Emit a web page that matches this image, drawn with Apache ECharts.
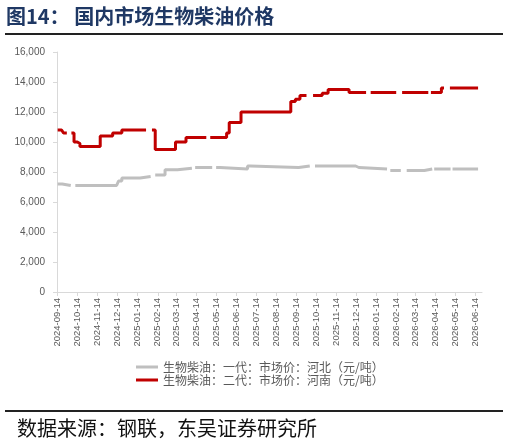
<!DOCTYPE html>
<html>
<head>
<meta charset="utf-8">
<script src="https://cdn.jsdelivr.net/npm/echarts@6/dist/echarts.min.js"></script>
<style>
    html, body { margin: 0; padding: 0; background: #fff; }
    #chart { width: 509px; height: 444px; }
</style>
</head>
<body>
<div id="chart"></div>
<script>
// 数据：二代 河南（红线），变化点 + null 断点
var redDates = ['2024-09-14','2024-09-20','2024-09-23','2024-09-28','2024-09-29','2024-10-05','2024-10-09','2024-10-14','2024-10-18',
    '2024-11-18','2024-12-07','2024-12-21','2025-01-27','2025-01-28','2025-02-05','2025-02-10','2025-03-13','2025-03-29',
    '2025-04-29','2025-04-30','2025-05-05','2025-05-30','2025-06-03','2025-06-21','2025-09-05','2025-09-12','2025-09-19',
    '2025-09-29','2025-09-30','2025-10-09','2025-10-23','2025-11-01','2025-12-03','2025-12-29','2025-12-30','2026-01-05',
    '2026-02-13','2026-02-14','2026-02-22','2026-04-03','2026-04-04','2026-04-07','2026-04-23','2026-04-27','2026-04-28',
    '2026-05-06','2026-06-18'];
var redValues = [10800,10700,10600,10600,null,10600,10000,9900,9700,
    10400,10600,10800,10800,null,10800,9500,10000,10300,
    10300,null,10300,10600,11300,12000,12700,12850,13100,
    13100,null,13100,13250,13500,13300,13300,null,13300,
    13300,null,13300,13300,null,13300,13600,13600,null,
    13600,13600];

// 数据：一代 河北（灰线）
var grayDates = ['2024-09-14','2024-09-21','2024-10-04','2024-10-05','2024-10-11','2024-12-13','2024-12-16','2024-12-21',
    '2025-01-18','2025-02-03','2025-02-04','2025-02-10','2025-02-25','2025-03-16','2025-04-07','2025-04-08','2025-04-12',
    '2025-05-08','2025-05-09','2025-05-14','2025-05-20','2025-07-01','2025-07-05','2025-09-17','2025-10-04','2025-10-05',
    '2025-10-12','2025-12-13','2025-12-18','2026-01-30','2026-01-31','2026-02-04','2026-02-20','2026-02-21','2026-03-01',
    '2026-03-28','2026-04-09','2026-04-10','2026-04-12','2026-05-07','2026-05-08','2026-05-10','2026-06-18'];
var grayValues = [7200,7100,7100,null,7100,7200,7400,7600,
    7700,7700,null,7800,8150,8250,8250,null,8300,
    8300,null,8300,8200,8400,8300,8400,8400,null,
    8400,8300,8200,8200,null,8100,8100,null,8100,
    8200,8200,null,8200,8200,null,8200,8200];

var xTickLabels = ['2024-09-14','2024-10-14','2024-11-14','2024-12-14','2025-01-14','2025-02-14','2025-03-14','2025-04-14',
    '2025-05-14','2025-06-14','2025-07-14','2025-08-14','2025-09-14','2025-10-14','2025-11-14','2025-12-14','2026-01-14',
    '2026-02-14','2026-03-14','2026-04-14','2026-05-14','2026-06-14'];

var seriesNames = ['生物柴油：一代：市场价：河北（元/吨）', '生物柴油：二代：市场价：河南（元/吨）'];

function ts(s) {
    var p = s.split('-').map(Number);
    return new Date(p[0], p[1] - 1, p[2]).getTime();
}
function pad(n) { return n < 10 ? '0' + n : '' + n; }
function fmt(v) {
    var d = new Date(v);
    return d.getFullYear() + '-' + pad(d.getMonth() + 1) + '-' + pad(d.getDate());
}
function pairs(dates, values) {
    return dates.map(function (d, i) { return [ts(d), values[i]]; });
}

var myChart = echarts.init(document.getElementById('chart'));

myChart.setOption({
    animation: false,
    title: [
        {
            text: '图14： 国内市场生物柴油价格',
            left: 6,
            top: 6,
            padding: 0,
            textStyle: { fontFamily: 'Noto Sans CJK SC', fontSize: 20, fontWeight: 'bold', color: '#1f3864' }
        },
        {
            text: '数据来源：钢联，东吴证券研究所',
            left: 17,
            top: 418,
            padding: 0,
            textStyle: { fontFamily: 'Noto Sans CJK SC', fontSize: 20, fontWeight: 'normal', color: '#111' }
        }
    ],
    graphic: [
        { type: 'rect', shape: { x: 5, y: 33, width: 498, height: 2 }, style: { fill: '#222' } },
        { type: 'rect', shape: { x: 5, y: 410, width: 498, height: 2 }, style: { fill: '#222' } }
    ],
    legend: {
        orient: 'vertical',
        left: 136,
        top: 361,
        padding: 0,
        icon: 'rect',
        itemWidth: 22,
        itemHeight: 3,
        itemGap: 1,
        textStyle: { fontFamily: 'Noto Sans CJK SC', fontSize: 12, color: '#595959' },
        data: seriesNames
    },
    grid: { left: 57, top: 52, right: 27, bottom: 152 },
    xAxis: {
        type: 'value',
        min: ts('2024-09-13'),
        max: ts('2026-06-24'),
        axisLine: { show: true, lineStyle: { color: '#d9d9d9', width: 1 } },
        axisTick: {
            show: true,
            length: 4,
            lineStyle: { color: '#d9d9d9' },
            customValues: xTickLabels.map(ts)
        },
        axisLabel: {
            rotate: 90,
            fontFamily: 'Liberation Sans',
            fontSize: 9.5,
            color: '#595959',
            margin: 6,
            customValues: xTickLabels.map(ts),
            formatter: function (v) { return fmt(v); }
        },
        splitLine: { show: false }
    },
    yAxis: {
        type: 'value',
        min: 0,
        max: 16000,
        interval: 2000,
        axisLine: { show: true, lineStyle: { color: '#d9d9d9', width: 1 } },
        axisTick: { show: true, length: 4, lineStyle: { color: '#d9d9d9' } },
        axisLabel: { fontFamily: 'Liberation Sans', fontSize: 10, color: '#595959', margin: 12 },
        splitLine: { show: false }
    },
    series: [
        {
            name: seriesNames[0],
            type: 'line',
            step: 'end',
            symbol: 'none',
            connectNulls: false,
            data: pairs(grayDates, grayValues),
            lineStyle: { color: '#bfbfbf', width: 3 },
            itemStyle: { color: '#bfbfbf' }
        },
        {
            name: seriesNames[1],
            type: 'line',
            step: 'end',
            symbol: 'none',
            connectNulls: false,
            data: pairs(redDates, redValues),
            lineStyle: { color: '#c00000', width: 3 },
            itemStyle: { color: '#c00000' }
        }
    ]
});
</script>
</body>
</html>
